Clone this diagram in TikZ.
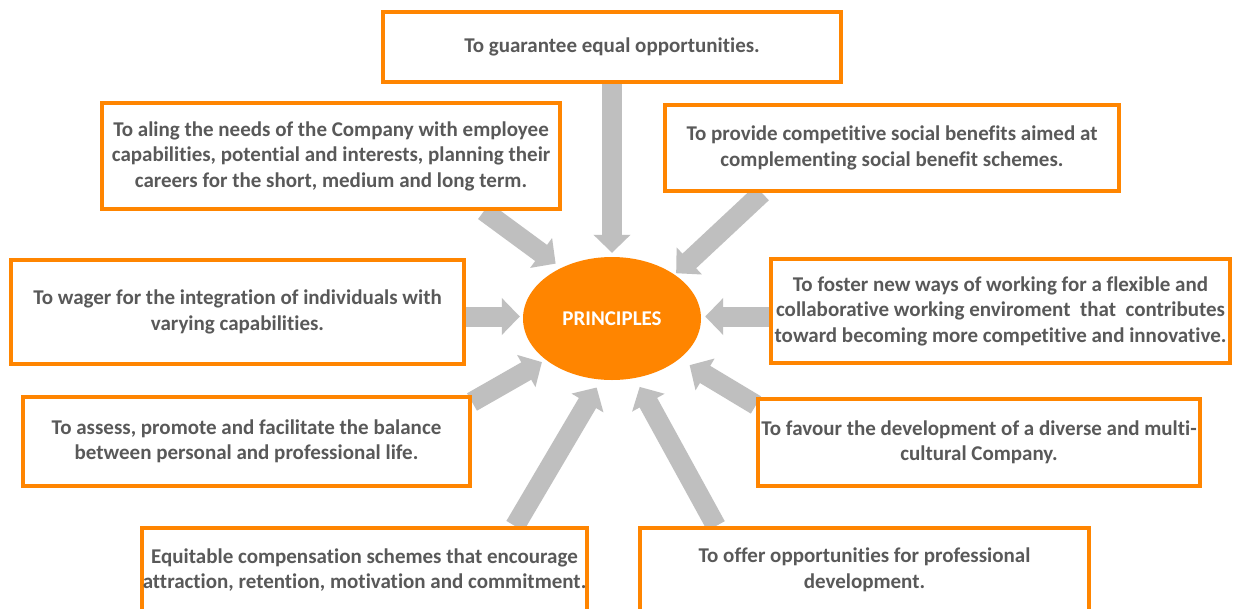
\documentclass[tikz,border=0pt]{standalone}
\usepackage{fontspec}
\setmainfont{Carlito}[Ligatures={NoCommon}]
\usetikzlibrary{arrows.meta,shapes.geometric,calc}
\definecolor{orng}{RGB}{255,133,0}
\definecolor{arrgray}{RGB}{191,191,191}
\definecolor{txtgray}{RGB}{89,89,89}
\pgfdeclarelayer{bg}
\pgfsetlayers{bg,main}
\tikzset{
  pbox/.style={draw=orng, line width=4pt, fill=white, rectangle, align=center,
    text=txtgray, font=\fontsize{21pt}{25.5pt}\selectfont\bfseries, inner sep=0pt},
  bigarrow/.style={draw=arrgray, line width=20pt,
    -{Triangle[width=36pt,length=18pt]}},
  hub/.style={ellipse, fill=orng, minimum width=178pt, minimum height=123pt, inner sep=0pt,
    text=white, font=\fontsize{21pt}{25pt}\selectfont\bfseries}
}
\begin{document}
\begin{tikzpicture}[x=1pt,y=-1pt]
\useasboundingbox (0,0) rectangle (1234,608);
\clip (0,0) rectangle (1234,608);

\node[hub] (p) at (612,318.5) {PRINCIPLES};

\node[pbox, minimum width=458pt, minimum height=70pt] (b1) at (612,47) {To guarantee equal opportunities.};
\node[pbox, minimum width=458pt, minimum height=106pt] (b2) at (331,156) {To aling the needs of the Company with employee\\capabilities, potential and interests, planning their\\careers for the short, medium and\ long term.};
\node[pbox, minimum width=454pt, minimum height=86pt] (b3) at (892,148) {To provide competitive social benefits aimed at\\complementing social benefit schemes.};
\node[pbox, minimum width=453pt, minimum height=104pt] (b4) at (237.5,312) {To wager for the integration of individuals with\\varying capabilities.};
\node[pbox, minimum width=459pt, minimum height=104pt] (b5) at (1000.5,311) {To foster new ways of working for a flexible and\\collaborative working enviroment\ \ that\ \ contributes\\toward becoming more competitive and innovative.};
\node[pbox, minimum width=447pt, minimum height=89pt] (b6) at (246.5,441.5) {To assess, promote and facilitate the balance\\between personal and professional life.};
\node[pbox, minimum width=442pt, minimum height=87pt] (b7) at (979,442.5) {To favour the development of a\ diverse and multi-\\cultural Company.};
\node[pbox, minimum width=445pt, minimum height=84pt] (b8) at (364.5,570) {Equitable compensation schemes that encourage\\attraction, retention, motivation and commitment.};
\node[pbox, minimum width=449pt, minimum height=84pt] (b9) at (864.5,570) {To offer opportunities for professional\\development.};

\begin{pgfonlayer}{bg}
\fill[white] (0,0) rectangle (1234,608);
\draw[bigarrow, shorten >=4pt] (b1.south) -- (p.north);
\draw[bigarrow, shorten >=7pt] ([xshift=-78pt]b2.south east) -- (p.135);
\draw[bigarrow, shorten >=2pt] ([xshift=99pt]b3.south west) -- (p.35);
\draw[bigarrow, shorten >=3pt] ($(b4.east |- p.west)+(0,-2)$) -- ($(p.west)+(0,-2)$);
\draw[bigarrow, shorten >=4pt] ($(b5.west |- p.east)+(0,-2)$) -- ($(p.east)+(0,-2)$);
\draw[bigarrow, shorten >=4.5pt] ([yshift=-7pt]b6.north east) -- (p.212);
\draw[bigarrow, shorten >=12pt] ([yshift=-8pt]b7.north west) -- (p.-31);
\draw[bigarrow, shorten >=9pt] ([xshift=-74pt]b8.north east) -- (p.260);
\draw[bigarrow, shorten >=10pt] ([xshift=78pt]b9.north west) -- (p.-69);
\end{pgfonlayer}
\end{tikzpicture}
\end{document}
